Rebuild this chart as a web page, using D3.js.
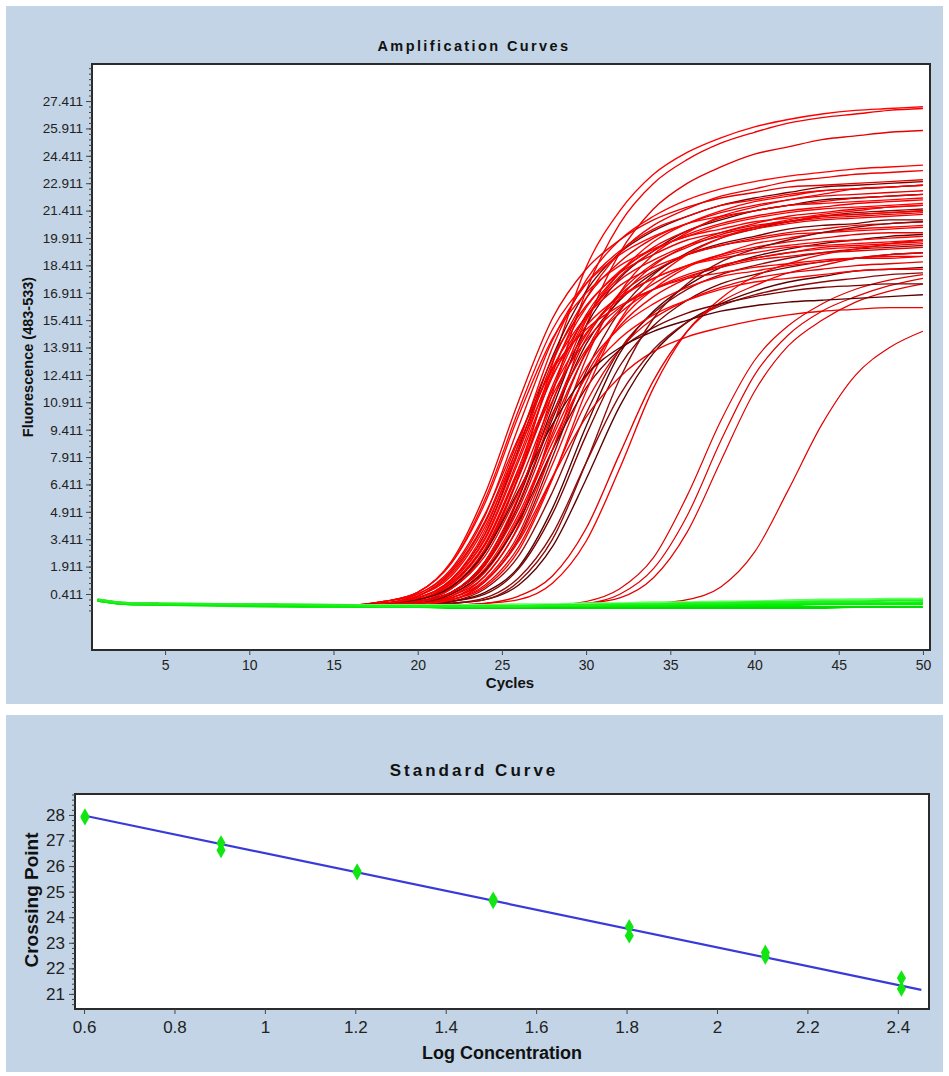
<!DOCTYPE html>
<html><head><meta charset="utf-8">
<script src="https://cdn.jsdelivr.net/npm/d3@7"></script>
<style>
body{margin:0;background:#fff;}
svg{display:block;}
</style></head><body>
<svg id="chart" width="949" height="1076"></svg>
<script>
// ---------- DATA: Amplification Curves ----------
const keyCycles = [1,3,16,18,20,22,24,26,28,30,32,34,36,38,40,42,44,46,48,50];
const cycleTicks = [5,10,15,20,25,30,35,40,45,50];
const fluorTicks = [0.411,1.911,3.411,4.911,6.411,7.911,9.411,10.911,12.411,13.911,15.411,16.911,18.411,19.911,21.411,22.911,24.411,25.911,27.411];

// bright red curves (fluorescence at keyCycles)
const redCurves = [
 [0.1,-0.1,-0.2,-0.2,0.0,0.7,2.7,6.9,13.0,18.3,21.4,23.4,24.6,25.4,26.0,26.4,26.7,26.9,27.0,27.1],
 [0.1,-0.1,-0.2,-0.2,-0.1,0.5,2.0,5.7,11.4,17.0,20.7,22.9,24.2,25.1,25.7,26.2,26.5,26.7,26.9,27.0],
 [0.1,-0.1,-0.2,-0.2,-0.1,0.2,1.4,4.2,9.5,15.1,19.1,21.5,22.9,23.8,24.5,24.9,25.3,25.5,25.7,25.8],
 [0.1,-0.1,-0.2,-0.1,0.2,1.2,3.9,8.7,13.9,17.6,19.8,21.1,22.0,22.6,23.0,23.3,23.5,23.7,23.8,23.9],
 [0.1,-0.1,-0.2,-0.2,0.1,0.9,3.1,7.3,12.5,16.6,19.1,20.6,21.5,22.2,22.6,23.0,23.2,23.4,23.5,23.6],
 [0.1,-0.1,-0.2,0.0,0.5,2.2,5.9,11.0,15.5,18.2,19.8,20.9,21.6,22.1,22.4,22.7,22.8,22.9,23.0,23.1],
 [0.1,-0.1,-0.2,-0.2,0.0,0.5,2.2,5.8,10.9,15.4,18.0,19.7,20.7,21.4,21.9,22.2,22.5,22.6,22.7,22.8],
 [0.1,-0.1,-0.2,-0.1,0.4,1.7,4.7,9.6,14.3,17.4,19.2,20.4,21.1,21.7,22.0,22.3,22.5,22.6,22.7,22.8],
 [0.1,-0.1,-0.2,-0.1,0.2,1.2,3.7,8.2,13.1,16.6,18.6,19.9,20.7,21.3,21.7,22.0,22.2,22.3,22.4,22.5],
 [0.1,-0.1,-0.2,0.0,0.5,2.1,5.6,10.5,14.9,17.4,19.0,20.0,20.7,21.1,21.4,21.7,21.8,21.9,22.0,22.1],
 [0.1,-0.1,-0.2,-0.2,0.1,0.8,2.8,6.8,11.6,15.5,17.8,19.2,20.1,20.7,21.1,21.4,21.6,21.8,21.9,22.0],
 [0.1,-0.1,-0.2,-0.2,-0.1,0.3,1.6,4.5,9.2,13.7,16.6,18.4,19.5,20.2,20.7,21.1,21.3,21.5,21.6,21.7],
 [0.1,-0.1,-0.2,0.0,0.5,2.1,5.4,10.2,14.4,16.9,18.4,19.3,20.0,20.4,20.8,21.0,21.1,21.2,21.3,21.4],
 [0.1,-0.1,-0.2,-0.1,0.1,1.1,3.4,7.7,12.3,15.6,17.6,18.7,19.5,20.0,20.4,20.7,20.9,21.0,21.1,21.2],
 [0.1,-0.1,-0.2,-0.2,0.1,0.8,2.7,6.4,11.0,14.6,16.8,18.1,19.0,19.5,19.9,20.2,20.4,20.6,20.7,20.8],
 [0.1,-0.1,-0.2,-0.2,-0.1,0.1,1.1,3.4,7.5,12.0,15.3,17.1,18.3,19.0,19.6,19.9,20.2,20.4,20.5,20.6],
 [0.1,-0.1,-0.2,-0.1,0.3,1.5,4.3,8.6,12.8,15.6,17.3,18.3,19.0,19.5,19.8,20.1,20.2,20.3,20.4,20.5],
 [0.1,-0.1,-0.2,-0.2,0.0,0.5,2.0,5.1,9.6,13.6,16.0,17.4,18.4,19.0,19.4,19.7,19.9,20.1,20.2,20.2],
 [0.1,-0.1,-0.2,-0.1,0.1,1.0,3.2,7.3,11.6,14.7,16.6,17.7,18.4,18.9,19.3,19.5,19.7,19.8,19.9,20.0],
 [0.1,-0.1,-0.2,-0.2,-0.1,0.3,1.4,4.1,8.3,12.4,15.1,16.7,17.7,18.4,18.8,19.1,19.4,19.5,19.6,19.7],
 [0.1,-0.1,-0.2,-0.1,0.1,1.0,3.1,7.1,11.3,14.3,16.1,17.1,17.8,18.3,18.7,18.9,19.1,19.2,19.3,19.4],
 [0.1,-0.1,-0.2,-0.2,0.0,0.4,1.8,4.8,9.0,12.8,15.0,16.3,17.2,17.8,18.1,18.4,18.6,18.8,18.9,18.9],
 [0.1,-0.1,-0.2,0.0,0.4,1.8,4.8,9.0,12.7,14.9,16.2,17.1,17.7,18.0,18.3,18.5,18.7,18.8,18.8,18.9],
 [0.1,-0.1,-0.2,-0.2,-0.1,0.1,0.9,3.0,6.8,10.9,13.8,15.5,16.5,17.2,17.7,18.0,18.2,18.4,18.5,18.6],
 [0.1,-0.1,-0.2,-0.2,-0.1,0.4,1.7,4.6,8.7,12.3,14.4,15.7,16.5,17.1,17.5,17.7,17.9,18.1,18.2,18.2],
 [0.1,-0.1,-0.2,-0.2,-0.1,0.2,1.1,3.3,6.8,10.1,12.3,13.7,14.5,15.0,15.4,15.7,15.9,16.0,16.1,16.1],
 [0.1,-0.1,-0.2,-0.2,0.1,0.8,2.9,6.9,11.8,15.7,18.0,19.4,20.3,21.0,21.4,21.7,21.9,22.1,22.2,22.3],
 [0.1,-0.1,-0.2,-0.1,0.3,1.4,4.1,8.3,12.4,15.1,16.7,17.7,18.4,18.8,19.1,19.4,19.5,19.6,19.7,19.8],
 [0.1,-0.1,-0.2,-0.2,-0.2,-0.2,-0.1,0.1,1.0,3.3,7.3,11.7,14.8,16.6,17.8,18.5,19.0,19.3,19.6,19.8],
 [0.1,-0.1,-0.2,-0.2,-0.2,-0.2,-0.1,0.3,1.4,4.0,8.1,12.1,14.8,16.4,17.3,18.0,18.4,18.8,19.0,19.1],
 [0.1,-0.1,-0.2,-0.2,-0.2,0.1,0.8,2.8,6.7,11.5,15.4,17.6,19.0,19.9,20.5,20.9,21.2,21.4,21.6,21.7],
 [0.1,-0.1,-0.2,-0.2,-0.1,0.2,1.2,3.7,8.3,13.3,16.9,19.0,20.2,21.1,21.6,22.0,22.3,22.6,22.7,22.8],
 [0.1,-0.1,-0.2,-0.1,0.3,1.6,4.4,8.9,13.3,16.2,18.0,19.0,19.8,20.2,20.6,20.8,21.0,21.1,21.2,21.3],
 [0.1,-0.1,-0.2,-0.1,0.2,1.1,3.5,7.9,12.7,16.1,18.1,19.3,20.0,20.6,21.0,21.3,21.5,21.6,21.7,21.8],
 [0.1,-0.1,-0.2,-0.2,0.0,0.7,2.5,6.0,10.3,13.8,15.8,17.1,17.9,18.4,18.8,19.1,19.3,19.4,19.5,19.6],
 [0.1,-0.1,-0.2,-0.2,0.0,0.5,2.1,5.4,10.2,14.4,16.9,18.5,19.4,20.1,20.5,20.8,21.1,21.2,21.3,21.4]
];
// dark red curves
const darkCurves = [
 [0.1,-0.1,-0.2,-0.1,0.2,1.2,3.7,8.4,13.4,17.0,19.1,20.3,21.1,21.7,22.1,22.4,22.7,22.8,22.9,23.0],
 [0.1,-0.1,-0.2,-0.2,0.0,0.5,2.2,5.7,10.6,15.1,17.7,19.2,20.3,20.9,21.4,21.7,22.0,22.1,22.2,22.3],
 [0.1,-0.1,-0.2,-0.2,-0.1,0.1,1.1,3.5,7.9,12.6,15.9,17.9,19.1,19.9,20.4,20.8,21.1,21.3,21.4,21.5],
 [0.1,-0.1,-0.2,-0.2,0.0,0.5,2.0,5.3,10.0,14.1,16.5,18.0,19.0,19.6,20.0,20.4,20.6,20.7,20.9,20.9],
 [0.1,-0.1,-0.2,-0.2,-0.2,0.0,0.5,1.9,5.1,9.6,13.6,15.9,17.3,18.3,18.9,19.3,19.6,19.8,20.0,20.1],
 [0.1,-0.1,-0.2,-0.2,-0.2,0.0,0.7,2.5,6.0,10.3,13.8,15.8,17.1,17.9,18.4,18.8,19.1,19.3,19.4,19.5],
 [0.1,-0.1,-0.2,-0.2,-0.2,0.0,0.4,1.8,4.8,9.1,12.9,15.1,16.5,17.4,17.9,18.3,18.6,18.8,19.0,19.1],
 [0.1,-0.1,-0.2,-0.2,-0.2,-0.1,0.1,0.9,3.0,6.7,10.7,13.6,15.3,16.3,17.0,17.5,17.8,18.1,18.2,18.3],
 [0.1,-0.1,-0.2,-0.2,-0.2,-0.1,0.2,1.3,3.7,7.6,11.3,13.8,15.3,16.2,16.8,17.2,17.5,17.7,17.9,18.0],
 [0.1,-0.1,-0.2,-0.2,-0.1,0.4,1.7,4.4,8.3,11.7,13.8,15.0,15.8,16.3,16.7,17.0,17.2,17.3,17.4,17.4],
 [0.1,-0.1,-0.2,-0.1,0.1,0.8,2.7,6.1,9.7,12.4,13.9,14.8,15.4,15.9,16.2,16.4,16.5,16.6,16.7,16.8],
 [0.1,-0.1,-0.2,-0.2,-0.2,-0.1,0.1,1.1,3.4,7.6,12.2,15.5,17.4,18.6,19.3,19.8,20.2,20.5,20.7,20.8]
];
// late amplifying curves
const lateCurves = [
 [0.1,-0.1,-0.2,-0.2,-0.2,-0.2,-0.2,-0.2,-0.2,0.0,0.7,2.4,5.8,9.9,13.2,15.1,16.3,17.1,17.6,17.9],
 [0.1,-0.1,-0.2,-0.2,-0.2,-0.2,-0.2,-0.2,-0.2,-0.1,0.4,1.8,4.7,8.8,12.4,14.6,15.9,16.7,17.3,17.7],
 [0.1,-0.1,-0.2,-0.2,-0.2,-0.2,-0.2,-0.2,-0.2,-0.1,0.2,1.3,3.8,7.7,11.5,14.0,15.4,16.4,17.0,17.4],
 [0.1,-0.1,-0.2,-0.2,-0.2,-0.2,-0.2,-0.2,-0.2,-0.2,-0.2,-0.1,0.1,0.8,2.7,6.1,9.7,12.4,13.9,14.8]
];
// negative (green) curves
const greenCurves = [
 [0.1,-0.15,-0.25,-0.3,-0.3,-0.3,-0.3,-0.3,-0.3,-0.3,-0.3,-0.3,-0.3,-0.3,-0.3,-0.3,-0.3,-0.3,-0.3,-0.3],
 [0.05,-0.15,-0.25,-0.25,-0.25,-0.25,-0.25,-0.2,-0.2,-0.2,-0.2,-0.2,-0.15,-0.15,-0.15,-0.1,-0.1,-0.1,-0.1,-0.05],
 [0.05,-0.15,-0.3,-0.3,-0.3,-0.3,-0.3,-0.25,-0.25,-0.25,-0.2,-0.2,-0.2,-0.2,-0.15,-0.15,-0.1,-0.1,-0.1,-0.1],
 [0.1,-0.1,-0.2,-0.2,-0.2,-0.2,-0.2,-0.15,-0.15,-0.1,-0.1,-0.05,-0.05,0.0,0.0,0.05,0.05,0.1,0.1,0.1],
 [0.05,-0.15,-0.25,-0.3,-0.3,-0.35,-0.35,-0.35,-0.35,-0.35,-0.35,-0.35,-0.35,-0.35,-0.35,-0.35,-0.35,-0.3,-0.3,-0.3],
 [0.1,-0.1,-0.2,-0.25,-0.25,-0.25,-0.2,-0.2,-0.2,-0.15,-0.15,-0.1,-0.1,-0.05,0.0,0.05,0.1,0.1,0.15,0.15],
 [0.05,-0.15,-0.25,-0.3,-0.3,-0.3,-0.3,-0.3,-0.25,-0.25,-0.25,-0.25,-0.2,-0.2,-0.2,-0.2,-0.15,-0.15,-0.15,-0.15],
 [0.1,-0.1,-0.2,-0.25,-0.25,-0.25,-0.25,-0.25,-0.2,-0.2,-0.15,-0.15,-0.1,-0.1,-0.05,-0.05,0.0,0.0,0.05,0.05]
];

// ---------- DATA: Standard Curve ----------
const logConc = [0.602,0.602,0.903,0.903,1.204,1.204,1.505,1.505,1.806,1.806,2.107,2.107,2.408,2.408];
const crossingPoint = [27.95,27.9,26.9,26.62,25.8,25.75,24.7,24.62,23.62,23.28,22.62,22.45,21.62,21.2];
const fitLogConc = [0.602,2.452];
const fitCrossing = [27.97,21.16];
const concTicks = [0.6,0.8,1,1.2,1.4,1.6,1.8,2,2.2,2.4];
const cpTicks = [21,22,23,24,25,26,27,28];

// ---------- DRAW ----------
const svg = d3.select("#chart");
const BG = "#c2d4e5";
const FONT = "'Liberation Sans', Arial, sans-serif";

svg.append("rect").attr("x",6).attr("y",6).attr("width",937).attr("height",698).attr("fill",BG);
svg.append("rect").attr("x",6).attr("y",715).attr("width",937).attr("height",357).attr("fill",BG);

// ===== Top chart =====
const P1 = {l:92, r:930, t:64, b:650};
const x1 = d3.scaleLinear().domain([0.66,50.42]).range([P1.l,P1.r]);
const y1 = d3.scaleLinear().domain([-2.656,29.44]).range([P1.b,P1.t]);

svg.append("rect").attr("x",P1.l).attr("y",P1.t).attr("width",P1.r-P1.l).attr("height",P1.b-P1.t).attr("fill","#fff");
svg.append("clipPath").attr("id","clip1").append("rect")
  .attr("x",P1.l).attr("y",P1.t).attr("width",P1.r-P1.l).attr("height",P1.b-P1.t);

const line1 = d3.line().x((d,i)=>x1(keyCycles[i])).y(d=>y1(d)).curve(d3.curveMonotoneX);
const gc = svg.append("g").attr("clip-path","url(#clip1)");

const redCols = ["#ff0000","#f00000","#e60000"];
const darkCols = ["#7a0000","#5a0000","#8c0a0a"];
gc.selectAll(".late").data(lateCurves).join("path").attr("class","late")
  .attr("d",line1).attr("fill","none").attr("stroke","#e00000").attr("stroke-width",1.2);
const all = [];
redCurves.forEach((c,i)=>{ all.push({v:c,col:redCols[i%3]}); if(i%3===2 && darkCurves[(i-2)/3]) all.push({v:darkCurves[(i-2)/3],col:darkCols[((i-2)/3)%3]}); });
darkCurves.slice(12).forEach((c,i)=>all.push({v:c,col:darkCols[i%3]}));
gc.selectAll(".amp").data(all).join("path").attr("class","amp")
  .attr("d",d=>line1(d.v)).attr("fill","none").attr("stroke",d=>d.col).attr("stroke-width",1.35);
const greenCols = ["#00e600","#00ff00","#10f010","#66ff66","#00dd00","#5cff5c","#00f000","#22ee22"];
gc.selectAll(".neg").data(greenCurves).join("path").attr("class","neg")
  .attr("d",line1).attr("fill","none").attr("stroke",(d,i)=>greenCols[i]).attr("stroke-width",2.2);

svg.append("rect").attr("x",P1.l).attr("y",P1.t).attr("width",P1.r-P1.l).attr("height",P1.b-P1.t)
  .attr("fill","none").attr("stroke","#2b2b2b").attr("stroke-width",2);

// y axis
const yMinor = d3.range(-0.489, 29.3, 0.3);
svg.append("g").attr("transform",`translate(${P1.l},0)`)
  .call(d3.axisLeft(y1).tickValues(yMinor).tickSize(3).tickFormat(""))
  .call(g=>g.select(".domain").remove()).selectAll("line").attr("stroke","#444");
svg.append("g").attr("transform",`translate(${P1.l},0)`)
  .call(d3.axisLeft(y1).tickValues(fluorTicks).tickSize(6).tickPadding(3).tickFormat(d3.format(".3f")))
  .call(g=>g.select(".domain").remove())
  .attr("font-family",FONT).attr("font-size",13.5)
  .call(g=>g.selectAll("text").attr("fill","#222"))
  .call(g=>g.selectAll("line").attr("stroke","#444"));
// x axis
svg.append("g").attr("transform",`translate(0,${P1.b})`)
  .call(d3.axisBottom(x1).tickValues(cycleTicks).tickSize(5).tickPadding(5).tickFormat(d3.format("d")))
  .call(g=>g.select(".domain").remove())
  .attr("font-family",FONT).attr("font-size",14)
  .call(g=>g.selectAll("text").attr("fill","#222"))
  .call(g=>g.selectAll("line").attr("stroke","#444"));

svg.append("text").attr("x",474).attr("y",51).attr("text-anchor","middle")
  .attr("font-family",FONT).attr("font-weight","bold").attr("font-size",14.5).attr("letter-spacing",2.4)
  .attr("fill","#111").text("Amplification Curves");
svg.append("text").attr("transform","translate(33,357) rotate(-90)").attr("text-anchor","middle")
  .attr("font-family",FONT).attr("font-weight","bold").attr("font-size",14.5).attr("fill","#111")
  .text("Fluorescence (483-533)");
svg.append("text").attr("x",510).attr("y",688).attr("text-anchor","middle")
  .attr("font-family",FONT).attr("font-weight","bold").attr("font-size",15).attr("fill","#111").text("Cycles");

// ===== Bottom chart =====
const P2 = {l:75, r:929, t:794, b:1009};
const x2 = d3.scaleLinear().domain([0.58,2.469]).range([P2.l,P2.r]);
const y2 = d3.scaleLinear().domain([20.41,28.82]).range([P2.b,P2.t]);
svg.append("rect").attr("x",P2.l).attr("y",P2.t).attr("width",P2.r-P2.l).attr("height",P2.b-P2.t).attr("fill","#fff");

const fitLine = d3.line().x(d=>x2(d[0])).y(d=>y2(d[1]));
svg.append("path").attr("d",fitLine(fitLogConc.map((v,i)=>[v,fitCrossing[i]])))
  .attr("fill","none").attr("stroke","#3a3ad8").attr("stroke-width",2.2);
svg.append("g").selectAll("path").data(logConc).join("path")
  .attr("d",d3.symbol(d3.symbolDiamond,72))
  .attr("transform",(d,i)=>`translate(${x2(d)},${y2(crossingPoint[i])})`)
  .attr("fill","#12e612");

svg.append("rect").attr("x",P2.l).attr("y",P2.t).attr("width",P2.r-P2.l).attr("height",P2.b-P2.t)
  .attr("fill","none").attr("stroke","#2b2b2b").attr("stroke-width",2);

const y2Minor = d3.range(20.6, 28.81, 0.2);
svg.append("g").attr("transform",`translate(${P2.l},0)`)
  .call(d3.axisLeft(y2).tickValues(y2Minor).tickSize(3).tickFormat(""))
  .call(g=>g.select(".domain").remove()).selectAll("line").attr("stroke","#444");
svg.append("g").attr("transform",`translate(${P2.l},0)`)
  .call(d3.axisLeft(y2).tickValues(cpTicks).tickSize(6).tickPadding(4).tickFormat(d3.format("d")))
  .call(g=>g.select(".domain").remove())
  .attr("font-family",FONT).attr("font-size",17)
  .call(g=>g.selectAll("text").attr("fill","#222"))
  .call(g=>g.selectAll("line").attr("stroke","#444"));
svg.append("g").attr("transform",`translate(0,${P2.b})`)
  .call(d3.axisBottom(x2).tickValues(concTicks).tickSize(5).tickPadding(7).tickFormat(d3.format("")))
  .call(g=>g.select(".domain").remove())
  .attr("font-family",FONT).attr("font-size",17)
  .call(g=>g.selectAll("text").attr("fill","#222"))
  .call(g=>g.selectAll("line").attr("stroke","#444"));

svg.append("text").attr("x",474).attr("y",776).attr("text-anchor","middle")
  .attr("font-family",FONT).attr("font-weight","bold").attr("font-size",17).attr("letter-spacing",3)
  .attr("fill","#111").text("Standard Curve");
svg.append("text").attr("transform","translate(38,900) rotate(-90)").attr("text-anchor","middle")
  .attr("font-family",FONT).attr("font-weight","bold").attr("font-size",19).attr("fill","#111")
  .text("Crossing Point");
svg.append("text").attr("x",502).attr("y",1059).attr("text-anchor","middle")
  .attr("font-family",FONT).attr("font-weight","bold").attr("font-size",18).attr("fill","#111")
  .text("Log Concentration");
</script>
</body></html>
